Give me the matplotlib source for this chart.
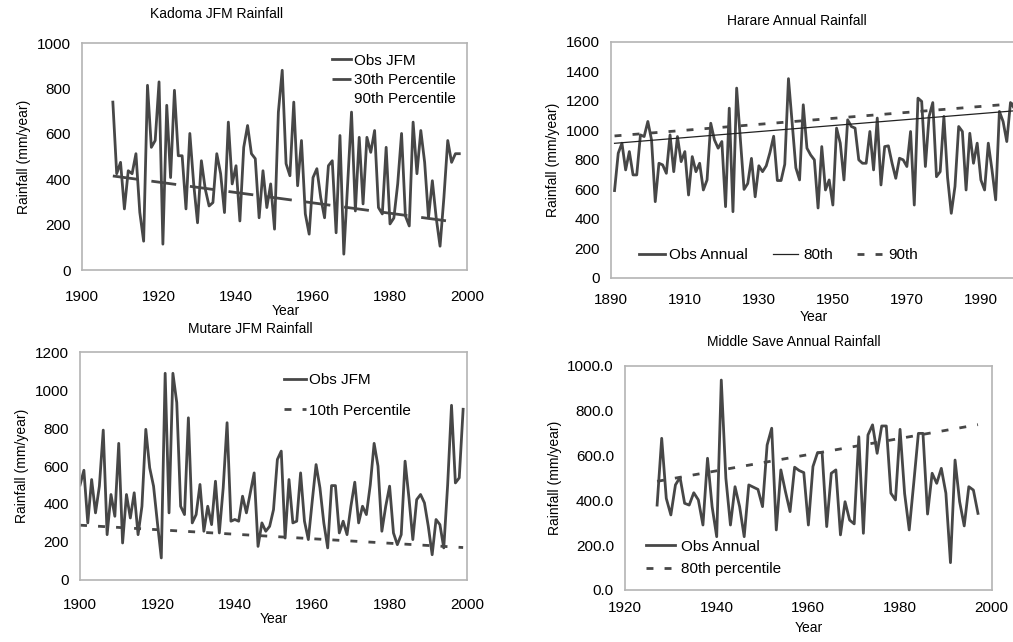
import numpy as np
import matplotlib
matplotlib.use("Agg")
import matplotlib.pyplot as plt

plt.rcParams['font.family'] = ['Liberation Sans', 'DejaVu Sans']

# Kadoma JFM rainfall, 1908-1998
kadoma_years = np.arange(1908, 1999)
kadoma_obs = [740, 425, 475, 270, 438, 425, 513, 255, 128, 814,
              541, 571, 829, 115, 726, 408, 792, 504, 504, 270,
              602, 380, 209, 482, 358, 283, 298, 513, 425, 254,
              652, 380, 460, 217, 541, 637, 513, 491, 231, 438,
              276, 380, 181, 696, 880, 469, 416, 740, 372, 571,
              248, 159, 408, 447, 320, 231, 460, 482, 165, 593,
              71, 380, 696, 261, 585, 292, 585, 519, 615, 276,
              248, 541, 204, 230, 380, 602, 239, 195, 652, 425,
              615, 475, 231, 394, 231, 106, 320, 571, 475, 513,
              513]
kadoma_p30_years = [1908, 1998]
kadoma_p30 = [415, 210]

# Harare annual rainfall, 1891-1999
harare_years = np.arange(1891, 2000)
harare_obs = [592, 845, 913, 732, 856, 698, 698, 969, 958, 1060,
              935, 517, 777, 766, 709, 969, 720, 958, 788, 856,
              562, 822, 720, 777, 596, 664, 1048, 935, 879, 924,
              483, 1150, 449, 1286, 940, 600, 640, 810, 550, 760,
              720, 760, 850, 960, 660, 660, 770, 1350, 1050, 746,
              664, 1173, 879, 833, 800, 474, 890, 596, 664, 494,
              1015, 913, 664, 1071, 1026, 1015, 800, 777, 777, 992,
              732, 1083, 630, 890, 895, 777, 675, 811, 800, 755,
              992, 494, 1218, 1196, 755, 1094, 1188, 686, 720, 1094,
              680, 438, 620, 1026, 992, 596, 980, 777, 913, 664,
              596, 913, 732, 529, 1128, 1060, 924, 1188, 1150]
harare_trend_years = [1891, 1999]
harare_p80 = [912, 1132]
harare_p90 = [962, 1180]

# Mutare JFM rainfall, 1900-1999
mutare_years = np.arange(1900, 2000)
mutare_obs = [500, 578, 300, 529, 353, 494, 790, 238, 450, 335,
              720, 194, 450, 326, 459, 238, 388, 794, 591, 494,
              300, 115, 1090, 353, 1090, 935, 388, 344, 855, 300,
              344, 503, 256, 388, 291, 520, 247, 485, 829, 309,
              318, 309, 441, 353, 459, 564, 176, 300, 256, 282,
              370, 635, 679, 220, 529, 300, 309, 564, 309, 212,
              414, 608, 485, 300, 168, 497, 497, 247, 309, 238,
              388, 515, 300, 388, 344, 500, 720, 600, 256, 388,
              494, 247, 185, 238, 626, 432, 212, 423, 450, 406,
              282, 132, 318, 291, 168, 500, 921, 511, 538, 900]
mutare_p10_years = [1900, 1999]
mutare_p10 = [288, 170]

# Middle Save annual rainfall, 1927-1997
save_years = np.arange(1927, 1998)
save_obs = [379, 677, 409, 335, 469, 503, 387, 379, 434, 402,
            290, 588, 372, 238, 937, 499, 290, 461, 372, 238,
            469, 459, 449, 372, 647, 722, 268, 536, 439, 350,
            548, 533, 524, 290, 551, 613, 613, 283, 521, 536,
            246, 394, 312, 295, 684, 253, 692, 737, 610, 732,
            732, 432, 402, 717, 430, 268, 480, 699, 699, 339,
            521, 476, 543, 432, 122, 580, 394, 286, 461, 446,
            342]
save_p80_years = [1927, 1997]
save_p80 = [485, 738]

line_col = '#474747'
spine_col = '#b4b4b4'

fig = plt.figure(figsize=(10.13, 6.42), dpi=100)


def style(ax, xpad):
    for s in ax.spines.values():
        s.set_color(spine_col)
        s.set_linewidth(1.2)
    ax.tick_params(length=0, labelsize=11)
    ax.tick_params(axis='y', pad=8)
    ax.tick_params(axis='x', pad=xpad)


# Kadoma
ax1 = fig.add_axes([0.081, 0.579, 0.380, 0.354])
ax1.plot(kadoma_years, kadoma_obs, color=line_col, lw=2, label='Obs JFM')
ax1.plot(kadoma_p30_years, kadoma_p30, color=line_col, lw=2,
         dashes=(9, 5), label='30th Percentile')
ax1.plot([], [], color='white', label='90th Percentile')
ax1.set_xlim(1900, 2000)
ax1.set_ylim(0, 1000)
ax1.set_xticks(range(1900, 2001, 20))
ax1.set_yticks(range(0, 1001, 200))
style(ax1, 14)
ax1.set_title('Kadoma JFM Rainfall', fontsize=10, x=0.35, pad=18)
ax1.set_ylabel('Rainfall (mm/year)', fontsize=10)
ax1.set_xlabel('Year', fontsize=10, labelpad=0, x=0.53)
ax1.legend(loc='upper right', bbox_to_anchor=(1.0, 1.0), frameon=False,
           fontsize=11, handlelength=1.3, handletextpad=0.2,
           labelspacing=0.35, borderaxespad=0.3)

# Harare
ax2 = fig.add_axes([0.603, 0.567, 0.400, 0.368])
ax2.plot(harare_years, harare_obs, color=line_col, lw=2, label='Obs Annual')
ax2.plot(harare_trend_years, harare_p80, color='#222222', lw=0.9,
         label='80th')
ax2.plot(harare_trend_years, harare_p90, color=line_col, lw=2,
         dashes=(2.5, 4), label='90th')
ax2.set_xlim(1890, 1999.5)
ax2.set_ylim(0, 1600)
ax2.set_xticks(range(1890, 1991, 20))
ax2.set_yticks(range(0, 1601, 200))
style(ax2, 11)
ax2.set_title('Harare Annual Rainfall', fontsize=10, x=0.46, pad=12)
ax2.set_ylabel('Rainfall (mm/year)', fontsize=10)
ax2.set_xlabel('Year', fontsize=10, labelpad=2)
ax2.legend(loc='lower left', bbox_to_anchor=(0.035, 0.01), ncol=3,
           frameon=False, fontsize=11, handlelength=1.7, handletextpad=0.3,
           columnspacing=1.6)

# Mutare
ax3 = fig.add_axes([0.079, 0.097, 0.382, 0.354])
ax3.plot(mutare_years, mutare_obs, color=line_col, lw=2, label='Obs JFM')
ax3.plot(mutare_p10_years, mutare_p10, color=line_col, lw=2,
         dashes=(2.5, 4), label='10th Percentile')
ax3.set_xlim(1900, 2000)
ax3.set_ylim(0, 1200)
ax3.set_xticks(range(1900, 2001, 20))
ax3.set_yticks(range(0, 1201, 200))
style(ax3, 13)
ax3.set_title('Mutare JFM Rainfall', fontsize=10, x=0.44, pad=14)
ax3.set_ylabel('Rainfall (mm/year)', fontsize=10)
ax3.set_xlabel('Year', fontsize=10, labelpad=0)
ax3.legend(loc='upper right', bbox_to_anchor=(0.89, 0.97), frameon=False,
           fontsize=11, handlelength=1.4, handletextpad=0.2,
           labelspacing=1.1)

# Middle Save
ax4 = fig.add_axes([0.617, 0.081, 0.362, 0.349])
ax4.plot(save_years, save_obs, color=line_col, lw=2, label='Obs Annual')
ax4.plot(save_p80_years, save_p80, color=line_col, lw=2,
         dashes=(2.5, 4), label='80th percentile')
ax4.set_xlim(1920, 2000)
ax4.set_ylim(0, 1000)
ax4.set_xticks(range(1920, 2001, 20))
ax4.set_yticks(range(0, 1001, 200))
ax4.yaxis.set_major_formatter(matplotlib.ticker.FormatStrFormatter('%.1f'))
style(ax4, 8)
ax4.set_title('Middle Save Annual Rainfall', fontsize=10, x=0.46, pad=14)
ax4.set_ylabel('Rainfall (mm/year)', fontsize=10)
ax4.set_xlabel('Year', fontsize=10, labelpad=4)
ax4.legend(loc='lower left', bbox_to_anchor=(0.02, 0.0), frameon=False,
           fontsize=11, handlelength=1.9, handletextpad=0.4,
           labelspacing=0.55)

plt.savefig('out.png', dpi=100)
plt.close()
